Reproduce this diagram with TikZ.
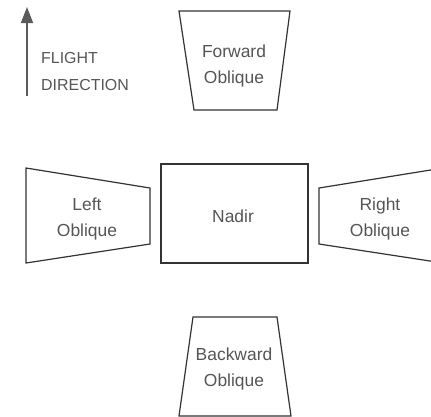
\documentclass[tikz,border=0pt]{standalone}
\usepackage{fontspec}
\setmainfont{Liberation Sans}
\usetikzlibrary{arrows.meta}
\definecolor{edgegray}{HTML}{333333}
\definecolor{textgray}{HTML}{555555}
\definecolor{arrowgray}{HTML}{5A5A5A}
\tikzset{
  footprint/.style={draw=edgegray, line width=1.2bp, line join=miter},
  label/.style={text=textgray, font=\fontsize{17.5}{25.5}\selectfont, align=center, inner sep=0pt},
  legend/.style={text=textgray, font=\fontsize{16}{27}\selectfont, align=left, inner sep=0pt, anchor=north west},
}
\begin{document}
\begin{tikzpicture}[x=1bp, y=-1bp]
  \useasboundingbox (0,0) rectangle (431,417);
  \clip (0,0) rectangle (431,417);

  % flight direction arrow and legend
  \coordinate (arrowtail) at (27,96);
  \coordinate (arrowtip) at (27,7);
  \draw[draw=arrowgray, line width=1.6bp, -{Triangle[length=16bp, width=12bp]}] (arrowtail) -- (arrowtip);
  \node[legend] (flight) at (41,52.5) {FLIGHT\\DIRECTION};

  % camera footprints
  \draw[footprint] (179,11) -- (290,11) -- (277,110) -- (194,110) -- cycle;
  \draw[footprint] (161,164) rectangle (308,263);
  \draw[footprint] (26,168) -- (150,188) -- (150,244) -- (26,263) -- cycle;
  \draw[footprint] (319,188) -- (443,168) -- (443,263) -- (319,244) -- cycle;
  \draw[footprint] (193,317) -- (277,317) -- (291,416) -- (179,416) -- cycle;

  % footprint labels
  \node[label] (forward) at (234,66) {Forward\\Oblique};
  \node[label] (nadir) at (233,216) {Nadir};
  \node[label] (left) at (87,219) {Left\\Oblique};
  \node[label] (right) at (380,219) {Right\\Oblique};
  \node[label] (backward) at (234,369) {Backward\\Oblique};
\end{tikzpicture}
\end{document}
